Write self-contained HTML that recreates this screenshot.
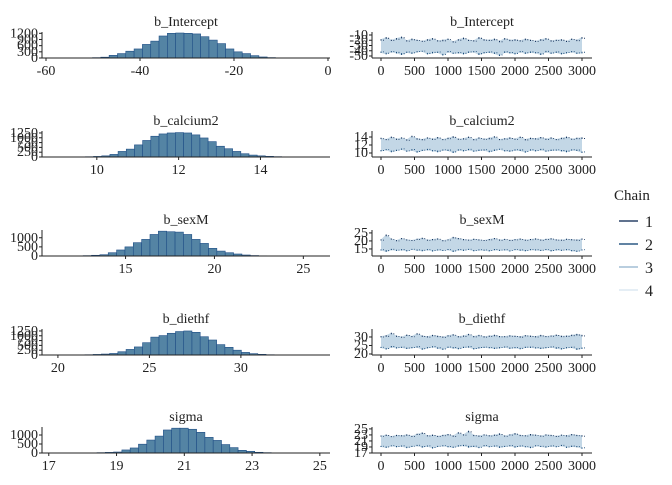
<!DOCTYPE html>
<html><head><meta charset="utf-8"><style>
body{margin:0;background:#fff;}
svg text{font-family:"Liberation Serif",serif;fill:#222;}
</style></head><body>
<svg id="chart" width="672" height="480" xmlns="http://www.w3.org/2000/svg"></svg>
<script>
// ---------- data ----------
const paramNames = ["b_Intercept","b_calcium2","b_sexM","b_diethf","sigma"];
const histCountsIntercept = [1,2,4,8,18,40,130,215,330,440,660,820,1070,1200,1215,1200,1170,1035,870,700,440,300,215,115,50,20,8,3,1,1];
const histCountsCalcium2 = [2,4,8,15,30,60,135,290,410,630,860,1080,1200,1250,1270,1250,1150,990,800,560,430,290,170,100,60,35,18,10,5,2];
const histCountsSexM = [1,2,3,5,10,20,40,70,180,330,500,730,910,1180,1360,1330,1310,1180,910,690,420,270,180,110,55,25,12,6,3,1];
const histCountsDiethf = [1,2,4,8,15,30,50,80,170,290,420,640,930,1010,1130,1220,1250,1180,950,780,540,400,250,135,70,35,15,6,3,1];
const histCountsSigma = [1,2,3,5,10,20,35,55,170,280,490,720,940,1280,1380,1380,1320,1150,870,700,470,300,150,95,40,20,10,5,2,1];
const histBinStart = [-56.3, 9.22, 10.5, 19.9, 17.32];
const histBinWidth = [1.77, 0.2, 0.47, 0.45, 0.245];
const histXDomain = [[-60.85,0.43],[8.66,15.7],[10.3,26.5],[19.13,34.87],[16.8,25.3]];
const histXTicks = [[-60,-40,-20,0],[10,12,14],[15,20,25],[20,25,30],[17,19,21,23,25]];
const histYTicks = [[0,300,600,900,1200],[0,250,500,750,1000,1250],[0,500,1000],[0,250,500,750,1000,1250],[0,500,1000]];
const histYMax = [1215,1300,1370,1300,1390];

const traceIter = [0,500,1000,1500,2000,2500,3000];
const traceYDomain = [[-53.8,-6.2],[9,15.25],[10.6,26.2],[19.4,34.1],[17,25.3]];
const traceYTicks = [[-50,-40,-30,-20,-10],[10,12,14],[15,20,25],[20,25,30],[17,19,21,23,25]];
const traceUpperIntercept = [-18,-14,-19,-16,-13,-20,-17,-19,-21,-18,-16,-20,-19,-17,-22,-18,-15,-19,-20,-14,-18,-19,-17,-21,-16,-19,-18,-20,-17,-19,-21,-18,-16,-20,-19,-18,-21,-17,-19,-14];
const traceLowerIntercept = [-44,-47,-43,-45,-48,-44,-46,-43,-42,-47,-45,-44,-49,-43,-46,-45,-47,-44,-43,-48,-45,-44,-46,-50,-44,-45,-47,-43,-46,-44,-45,-48,-43,-46,-44,-47,-45,-43,-46,-45];
const traceUpperCalcium2 = [13.8,13.5,14.1,13.6,13.9,13.4,14.3,13.7,13.5,13.9,13.6,14.0,13.5,13.8,14.2,13.6,13.7,14.1,13.5,13.9,13.6,13.8,14.2,13.5,13.7,13.9,13.6,14.1,13.5,13.8,13.7,14.0,13.6,13.9,13.5,13.8,14.1,13.6,13.8,13.9];
const traceLowerCalcium2 = [10.4,10.7,10.2,10.5,10.8,10.3,10.6,10.1,10.5,10.7,10.4,10.2,10.6,10.5,10.0,10.6,10.4,10.7,10.3,10.5,10.6,10.2,10.5,10.8,10.4,10.3,10.6,10.5,10.1,10.6,10.4,10.7,10.3,10.5,10.6,10.4,10.2,10.6,10.5,10.0];
const traceUpperSexM = [21,24,21.5,20.5,21.8,21,20.6,21.4,22,20.8,21.2,21.6,20.5,21,22.5,21.8,21.2,20.8,21.4,21,20.6,21.2,21.8,20.9,21.3,20.7,21.1,21.5,20.8,21.2,21.6,20.9,21.3,21.7,21.0,20.8,21.4,21.1,20.9,21.5];
const traceLowerSexM = [14,13.2,14.3,13.8,14.1,13.5,14.4,13.9,13.6,14.2,13.4,14,13.7,14.3,13.1,14.1,13.8,14.4,13.6,14,13.9,13.5,14.2,13.8,14.1,13.4,14.3,13.9,13.6,14.2,14,13.7,14.3,13.5,14.1,13.8,14.2,13.6,13.2,14];
const traceUpperDiethf = [30.5,31,32.5,30.8,30.2,31.4,30.6,32.2,30.9,30.4,31.2,30.7,30.3,31,31.6,30.5,30.9,31.8,30.6,31.2,30.4,30.8,31.3,30.6,30.5,31,30.7,30.4,31.1,30.8,30.5,31.2,30.6,30.9,31.4,30.7,30.8,31.3,31.8,31.2];
const traceLowerDiethf = [23.5,22.6,23.8,23.2,23.6,22.9,23.4,23.7,22.5,23.3,23.8,23.1,22.4,23.6,23.2,22.8,23.5,23.7,22.7,23.2,23.6,23.4,22.9,23.3,23.7,23.0,23.4,22.8,23.5,23.6,23.2,22.9,23.4,23.7,23.1,22.6,23.3,23.5,22.4,23.0];
const traceUpperSigma = [22.8,23.1,22.6,23,22.9,23.2,22.7,23.4,23.8,22.9,23.1,22.7,23,23.3,22.8,23.9,23.2,24.4,23,22.8,23.2,22.9,23.1,23.5,22.8,23.2,23.6,23,22.9,23.3,23.1,22.8,23.2,23,22.7,23.1,22.9,23.3,23,22.9];
const traceLowerSigma = [19,18.7,19.2,18.9,19.1,18.6,19,19.3,18.8,19.1,18.5,19,19.2,18.9,18.7,19.1,19.3,18.8,19,18.6,19.2,18.9,19.1,18.7,19,19.2,18.8,19.1,18.9,18.6,19.2,19,18.8,19.1,18.9,19.3,18.7,19,18.9,18.4];

const histCounts = [histCountsIntercept,histCountsCalcium2,histCountsSexM,histCountsDiethf,histCountsSigma];
const traceUpper = [traceUpperIntercept,traceUpperCalcium2,traceUpperSexM,traceUpperDiethf,traceUpperSigma];
const traceLower = [traceLowerIntercept,traceLowerCalcium2,traceLowerSexM,traceLowerDiethf,traceLowerSigma];
const chainLabels = ["1","2","3","4"];

// ---------- layout ----------
const svg = document.getElementById('chart');
const NS = "http://www.w3.org/2000/svg";
function mk(tag, attrs, parent){const e=document.createElementNS(NS,tag);for(const k in attrs)e.setAttribute(k,attrs[k]);(parent||svg).appendChild(e);return e;}
const axisYs = [58,157,256,355,453];
const panelH = 25;
const LX0=42, LX1=330, RX0=372, RX1=592, RXd0=381, RXd1=582;
const chainColors = ["#011f4b","#03396c","#8fb0cc","#d5e4ef"];
const FS = 14;

paramNames.forEach((name,p)=>{
  const ay = axisYs[p];
  // ----- histogram panel -----
  const g = mk('g',{});
  
  
  const t = mk('text',{x:186,y:ay-32,'text-anchor':'middle','font-size':14},g);
  t.textContent = name;
  
  
  const [d0,d1] = histXDomain[p];
  const xs = v => LX0 + (v-d0)/(d1-d0)*(LX1-LX0);
  const ys = c => ay - c/histYMax[p]*panelH;
  histCounts[p].forEach((c,i)=>{
    const x0 = xs(histBinStart[p] + (i-0.5)*histBinWidth[p]);
    const x1 = xs(histBinStart[p] + (i+0.5)*histBinWidth[p]);
    const r = mk('rect',{x:x0,y:ys(c),width:Math.max(0,x1-x0),height:ay-ys(c),fill:'#5484a4',stroke:'#1f4e86','stroke-width':0.6},g);
    
    
  });
  mk('line',{x1:LX0,y1:ay,x2:LX1,y2:ay,stroke:'#222','stroke-width':1},g);
  mk('line',{x1:LX0,y1:ay,x2:LX0,y2:ay-panelH-1,stroke:'#222','stroke-width':1},g);
  histXTicks[p].forEach(v=>{
    mk('line',{x1:xs(v),y1:ay,x2:xs(v),y2:ay+3,stroke:'#222'},g);
    const tl = mk('text',{x:xs(v),y:ay+17,'text-anchor':'middle','font-size':FS},g);
    tl.textContent = v;
    
    
  });
  histYTicks[p].forEach(v=>{
    mk('line',{x1:LX0-3,y1:ys(v),x2:LX0,y2:ys(v),stroke:'#222'},g);
    const tl = mk('text',{x:LX0-4,y:ys(v)+4,'text-anchor':'end','font-size':FS},g);
    tl.textContent = v;
    
    
  });

  // ----- trace panel -----
  const h = mk('g',{});
  
  
  const t2 = mk('text',{x:482,y:ay-32,'text-anchor':'middle','font-size':14},h);
  t2.textContent = name;
  
  
  const [y0,y1] = traceYDomain[p];
  const tx = it => RXd0 + it/3000*(RXd1-RXd0);
  const ty = v => ay - (v-y0)/(y1-y0)*panelH;
  const up = traceUpper[p], lo = traceLower[p];
  const n = up.length;
  let pts = [];
  up.forEach((v,i)=>pts.push(tx(i/(n-1)*3000)+','+ty(v)));
  for(let i=n-1;i>=0;i--) pts.push(tx(i/(n-1)*3000)+','+ty(lo[i]));
  const band = mk('polygon',{points:pts.join(' '),fill:'#c3d7e6'},h);
  
  
  [up,lo].forEach((arr,k)=>{
    let d='';
    arr.forEach((v,i)=>{
      const x = tx(i/(n-1)*3000);
      const mid = (up[i]+lo[i])/2;
      const inner = mid + (v-mid)*0.8;
      d += 'M'+x+','+ty(inner)+'L'+x+','+ty(v)+'M'+(x+2.5)+','+ty(inner)+'L'+(x+2.5)+','+ty(mid+(v-mid)*0.92);
    });
    const pl = mk('path',{d:d,fill:'none',stroke:chainColors[k],'stroke-width':0.9},h);
    
    
  });
  mk('line',{x1:RX0,y1:ay,x2:RX1,y2:ay,stroke:'#222','stroke-width':1},h);
  mk('line',{x1:RX0,y1:ay,x2:RX0,y2:ay-panelH-1,stroke:'#222','stroke-width':1},h);
  traceIter.forEach(v=>{
    mk('line',{x1:tx(v),y1:ay,x2:tx(v),y2:ay+3,stroke:'#222'},h);
    const tl = mk('text',{x:tx(v),y:ay+17,'text-anchor':'middle','font-size':FS},h);
    tl.textContent = v;
    
    
  });
  traceYTicks[p].forEach(v=>{
    mk('line',{x1:RX0-3,y1:ty(v),x2:RX0,y2:ty(v),stroke:'#222'},h);
    const tl = mk('text',{x:RX0-4,y:ty(v)+4,'text-anchor':'end','font-size':FS},h);
    tl.textContent = v;
    
    
  });
});

// ----- legend -----
const lg = mk('g',{});


const lt = mk('text',{x:614,y:200,'font-size':15},lg);
lt.textContent = 'Chain';


chainLabels.forEach((c,i)=>{
  const y = 221 + i*23;
  const l = mk('line',{x1:619,y1:y,x2:638,y2:y,stroke:chainColors[i],'stroke-width':1.2},lg);
  
  
  const tt = mk('text',{x:645,y:y+6,'font-size':16},lg);
  tt.textContent = c;
  
  
});
</script>
</body></html>
